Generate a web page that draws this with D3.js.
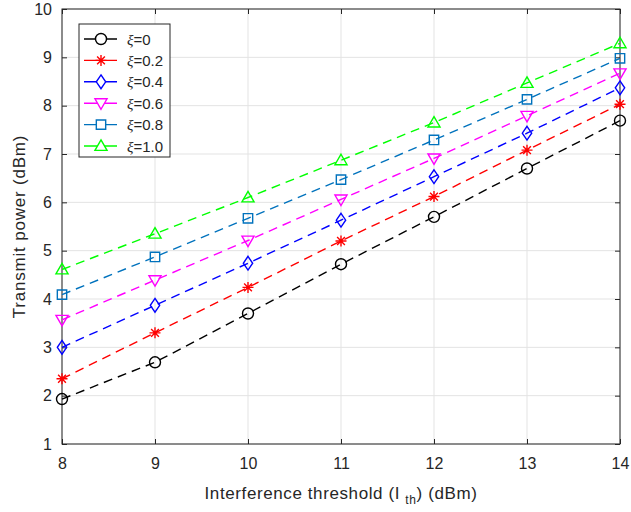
<!DOCTYPE html>
<html>
<head>
<meta charset="utf-8">
<script src="https://cdn.jsdelivr.net/npm/d3@7"></script>
<style>
  body { margin: 0; background: #fff; }
  text { font-family: "Liberation Sans", Arial, sans-serif; fill: #262626; }
</style>
</head>
<body>
<svg id="chart"></svg>
<script>
const thresholds = [8, 9, 10, 11, 12, 13, 14];
const xiLabels = ['0', '0.2', '0.4', '0.6', '0.8', '1.0'];
const power_xi0 = [1.93, 2.69, 3.70, 4.72, 5.70, 6.70, 7.69];
const power_xi02 = [2.35, 3.30, 4.24, 5.20, 6.12, 7.08, 8.03];
const power_xi04 = [3.00, 3.87, 4.74, 5.63, 6.53, 7.43, 8.37];
const power_xi06 = [3.57, 4.39, 5.21, 6.06, 6.91, 7.79, 8.67];
const power_xi08 = [4.09, 4.87, 5.67, 6.47, 7.29, 8.13, 8.98];
const power_xi10 = [4.61, 5.35, 6.10, 6.87, 7.65, 8.47, 9.29];
const yTicks = [1, 2, 3, 4, 5, 6, 7, 8, 9, 10];

const seriesData = [power_xi0, power_xi02, power_xi04, power_xi06, power_xi08, power_xi10];
const colors = ['#000000', '#ff0000', '#0000ff', '#ff00ff', '#0072bd', '#00ff00'];
const markers = ['circle', 'star', 'diamond', 'tridown', 'square', 'triup'];

const width = 631, height = 512;
const margin = {left: 62, right: 11, top: 9, bottom: 68};
const svg = d3.select('#chart').attr('width', width).attr('height', height);

const x = d3.scaleLinear().domain([8, 14]).range([margin.left, width - margin.right]);
const y = d3.scaleLinear().domain([1, 10]).range([height - margin.bottom, margin.top]);

// grid
const grid = svg.append('g');
grid.selectAll('line.gx').data(thresholds).enter().append('line')
  .attr('x1', d => x(d)).attr('x2', d => x(d))
  .attr('y1', y(1)).attr('y2', y(10))
  .style('stroke', '#e3e3e3').style('stroke-width', 1);
grid.selectAll('line.gy').data(yTicks).enter().append('line')
  .attr('x1', x(8)).attr('x2', x(14))
  .attr('y1', d => y(d)).attr('y2', d => y(d))
  .style('stroke', '#e3e3e3').style('stroke-width', 1);

// axes with inward ticks
const axisStyle = g => {
  g.select('.domain').remove();
  g.selectAll('line').style('stroke', '#262626');
  g.selectAll('text').style('font-size', '16px').style('fill', '#262626');
};
svg.append('g').attr('transform', `translate(0,${y(1)})`)
  .call(d3.axisBottom(x).tickValues(thresholds).tickFormat(d3.format('d')).tickSizeInner(-5).tickPadding(14))
  .call(axisStyle);
svg.append('g').attr('transform', `translate(0,${y(10)})`)
  .call(d3.axisTop(x).tickValues(thresholds).tickFormat('').tickSizeInner(-5))
  .call(axisStyle);
svg.append('g').attr('transform', `translate(${x(8)},0)`)
  .call(d3.axisLeft(y).tickValues(yTicks).tickFormat(d3.format('d')).tickSizeInner(-5).tickPadding(10))
  .call(axisStyle);
svg.append('g').attr('transform', `translate(${x(14)},0)`)
  .call(d3.axisRight(y).tickValues(yTicks).tickFormat('').tickSizeInner(-5))
  .call(axisStyle);
svg.append('rect')
  .attr('x', x(8)).attr('y', y(10))
  .attr('width', x(14) - x(8)).attr('height', y(1) - y(10))
  .style('fill', 'none').style('stroke', '#262626').style('stroke-width', 1);

// marker shapes
function markerPath(type, s) {
  const p = d3.path();
  if (type === 'circle') { p.moveTo(s, 0); p.arc(0, 0, s, 0, 2 * Math.PI); }
  else if (type === 'square') { p.rect(-s * 0.85, -s * 0.85, s * 1.7, s * 1.7); }
  else if (type === 'diamond') { p.moveTo(0, -s * 1.25); p.lineTo(s * 0.85, 0); p.lineTo(0, s * 1.25); p.lineTo(-s * 0.85, 0); p.closePath(); }
  else if (type === 'triup') { p.moveTo(0, -s * 1.1); p.lineTo(s * 1.1, s * 0.8); p.lineTo(-s * 1.1, s * 0.8); p.closePath(); }
  else if (type === 'tridown') { p.moveTo(0, s * 1.1); p.lineTo(s * 1.1, -s * 0.8); p.lineTo(-s * 1.1, -s * 0.8); p.closePath(); }
  else if (type === 'star') {
    for (let k = 0; k < 4; k++) {
      const a = k * Math.PI / 4 + Math.PI / 2;
      p.moveTo(Math.cos(a) * s, Math.sin(a) * s); p.lineTo(-Math.cos(a) * s, -Math.sin(a) * s);
    }
  }
  return p.toString();
}

const line = d3.line().x((d, i) => x(thresholds[i])).y(d => y(d));
seriesData.forEach((vals, si) => {
  const g = svg.append('g');
  g.append('path').datum(vals).attr('d', line)
    .style('fill', 'none').style('stroke', colors[si])
    .style('stroke-width', 1.4).style('stroke-dasharray', '9,6');
  g.selectAll('path.m').data(vals).enter().append('path')
    .attr('transform', (d, i) => `translate(${x(thresholds[i])},${y(d)})`)
    .attr('d', markerPath(markers[si], 5.5))
    .style('fill', 'none').style('stroke', colors[si]).style('stroke-width', 1.4);
});

// legend
const legend = svg.append('g').attr('transform', 'translate(79,24)');
legend.append('rect').attr('width', 91).attr('height', 133)
  .style('fill', '#fff').style('stroke', '#262626').style('stroke-width', 1);
xiLabels.forEach((lab, i) => {
  const ly = 15 + i * 21.4;
  legend.append('line').attr('x1', 5).attr('x2', 38).attr('y1', ly).attr('y2', ly)
    .style('stroke', colors[i]).style('stroke-width', 1.4);
  legend.append('path').attr('transform', `translate(22,${ly})`)
    .attr('d', markerPath(markers[i], 5.5))
    .style('fill', '#fff').style('stroke', colors[i]).style('stroke-width', 1.4);
  const t = legend.append('text').attr('x', 48).attr('y', ly + 5.5).style('font-size', '15px');
  t.append('tspan').style('font-style', 'italic').style('font-family', '"Liberation Serif", serif').text('ξ');
  t.append('tspan').text('=' + lab);
});

// axis labels
svg.append('text')
  .attr('transform', `translate(25,${(y(1) + y(10)) / 2}) rotate(-90)`)
  .attr('text-anchor', 'middle').style('font-size', '17px').style('letter-spacing', '0.8px')
  .text('Transmit power (dBm)');
const xl = svg.append('text')
  .attr('x', (x(8) + x(14)) / 2).attr('y', 499)
  .attr('text-anchor', 'middle').style('font-size', '17px').style('letter-spacing', '0.6px');
xl.append('tspan').text('Interference threshold (I ');
xl.append('tspan').attr('dy', 5).style('font-size', '12px').text('th');
xl.append('tspan').attr('dy', -5).text(') (dBm)');
</script>
</body>
</html>
